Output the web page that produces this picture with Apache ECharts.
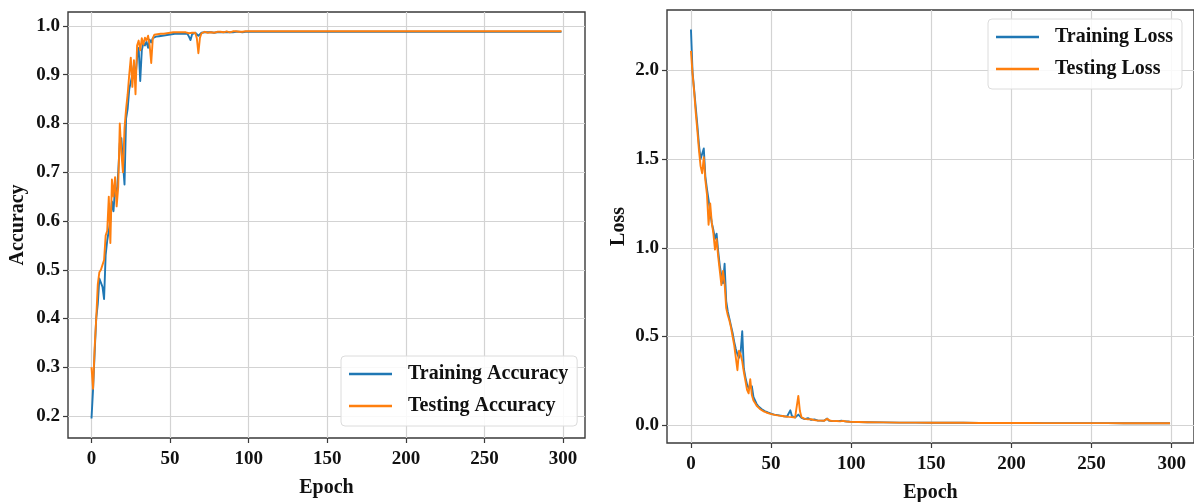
<!DOCTYPE html>
<html>
<head>
<meta charset="utf-8">
<script src="https://cdn.jsdelivr.net/npm/echarts@6/dist/echarts.min.js"></script>
<style>
  html, body { margin: 0; padding: 0; background: #fff; }
  #chart { width: 1194px; height: 502px; }
</style>
</head>
<body>
<div id="chart"></div>
<script>
// Per-epoch values for epochs 0..99, then sparser samples over the flat tail.
const tailEpochs = [100, 110, 120, 130, 140, 150, 160, 170, 180, 190, 200, 210, 220, 230, 240, 250, 260, 270, 280, 290, 299];

const trainAcc = [
  0.195, 0.255, 0.33, 0.40, 0.43, 0.482, 0.478, 0.465, 0.44, 0.53,
  0.56, 0.58, 0.60, 0.64, 0.62, 0.67, 0.65, 0.70, 0.76, 0.77,
  0.72, 0.675, 0.81, 0.83, 0.87, 0.885, 0.90, 0.92, 0.895, 0.935,
  0.955, 0.887, 0.95, 0.965, 0.96, 0.968, 0.955, 0.972, 0.966, 0.975,
  0.976, 0.978, 0.977, 0.979, 0.978, 0.980, 0.979, 0.981, 0.980, 0.982,
  0.982, 0.983, 0.982, 0.984, 0.983, 0.984, 0.985, 0.984, 0.985, 0.984,
  0.985, 0.984, 0.978, 0.971, 0.983, 0.985, 0.986, 0.985, 0.980, 0.984,
  0.986, 0.986, 0.987, 0.986, 0.987, 0.986, 0.987, 0.987, 0.986, 0.987,
  0.987, 0.986, 0.987, 0.988, 0.987, 0.986, 0.987, 0.988, 0.987, 0.988,
  0.987, 0.988, 0.988, 0.987, 0.988, 0.988, 0.987, 0.988, 0.988, 0.988
];
const trainAccTail = [0.988, 0.988, 0.988, 0.988, 0.988, 0.988, 0.988, 0.988, 0.988, 0.988, 0.988,
  0.988, 0.988, 0.988, 0.988, 0.988, 0.988, 0.988, 0.988, 0.988, 0.988];

const testAcc = [
  0.30, 0.256, 0.34, 0.40, 0.47, 0.495, 0.50, 0.51, 0.52, 0.57,
  0.58, 0.65, 0.555, 0.685, 0.65, 0.69, 0.63, 0.67, 0.80, 0.74,
  0.70, 0.79, 0.83, 0.86, 0.90, 0.935, 0.875, 0.93, 0.86, 0.96,
  0.97, 0.95, 0.975, 0.962, 0.976, 0.97, 0.98, 0.96, 0.924, 0.975,
  0.982, 0.984, 0.983, 0.985, 0.984, 0.986, 0.984, 0.986, 0.985, 0.987,
  0.986, 0.985, 0.987, 0.986, 0.987, 0.985, 0.987, 0.986, 0.987, 0.986,
  0.987, 0.986, 0.985, 0.984, 0.986, 0.987, 0.986, 0.975, 0.944, 0.976,
  0.985, 0.987, 0.988, 0.987, 0.986, 0.988, 0.987, 0.988, 0.986, 0.987,
  0.988, 0.987, 0.988, 0.988, 0.987, 0.988, 0.989, 0.988, 0.987, 0.988,
  0.989, 0.988, 0.989, 0.988, 0.988, 0.989, 0.988, 0.989, 0.989, 0.989
];
const testAccTail = [0.989, 0.989, 0.989, 0.989, 0.989, 0.989, 0.989, 0.989, 0.989, 0.989, 0.989,
  0.989, 0.989, 0.989, 0.989, 0.989, 0.989, 0.989, 0.989, 0.989, 0.989];

const trainLoss = [
  2.23, 1.99, 1.89, 1.79, 1.69, 1.58, 1.50, 1.53, 1.56, 1.40,
  1.33, 1.27, 1.20, 1.14, 1.10, 1.05, 1.08, 0.98, 0.90, 0.84,
  0.80, 0.91, 0.70, 0.64, 0.60, 0.56, 0.52, 0.47, 0.43, 0.40,
  0.38, 0.41, 0.53, 0.32, 0.27, 0.23, 0.21, 0.20, 0.22, 0.16,
  0.140, 0.120, 0.108, 0.098, 0.092, 0.086, 0.080, 0.076, 0.072, 0.068,
  0.065, 0.062, 0.060, 0.058, 0.057, 0.060, 0.054, 0.052, 0.051, 0.050,
  0.049, 0.055, 0.084, 0.052, 0.046, 0.044, 0.043, 0.060, 0.070, 0.042,
  0.037, 0.035, 0.034, 0.040, 0.032, 0.030, 0.029, 0.033, 0.028, 0.027,
  0.026, 0.026, 0.030, 0.025, 0.028, 0.038, 0.026, 0.024, 0.024, 0.030,
  0.023, 0.029, 0.023, 0.022, 0.026, 0.030, 0.022, 0.021, 0.021, 0.020
];
const trainLossTail = [0.019, 0.017, 0.016, 0.015, 0.015, 0.014, 0.014, 0.014, 0.013, 0.013, 0.013,
  0.013, 0.012, 0.012, 0.012, 0.012, 0.012, 0.011, 0.011, 0.011, 0.011];

const testLoss = [
  2.11, 1.98, 1.88, 1.76, 1.66, 1.55, 1.46, 1.42, 1.51, 1.38,
  1.30, 1.13, 1.25, 1.14, 1.08, 0.99, 1.05, 0.95, 0.87, 0.79,
  0.87, 0.80, 0.66, 0.62, 0.59, 0.55, 0.50, 0.45, 0.44, 0.31,
  0.42, 0.40, 0.36, 0.30, 0.25, 0.20, 0.18, 0.26, 0.17, 0.14,
  0.125, 0.110, 0.100, 0.092, 0.086, 0.080, 0.076, 0.072, 0.068, 0.066,
  0.063, 0.061, 0.059, 0.057, 0.056, 0.054, 0.053, 0.052, 0.050, 0.049,
  0.048, 0.047, 0.050, 0.046, 0.045, 0.044, 0.050, 0.165, 0.080, 0.045,
  0.038, 0.036, 0.034, 0.033, 0.031, 0.034, 0.030, 0.029, 0.028, 0.027,
  0.027, 0.026, 0.026, 0.025, 0.030, 0.036, 0.026, 0.025, 0.024, 0.023,
  0.028, 0.024, 0.023, 0.022, 0.022, 0.025, 0.022, 0.021, 0.021, 0.020
];
const testLossTail = [0.019, 0.017, 0.016, 0.015, 0.015, 0.014, 0.014, 0.014, 0.013, 0.013, 0.013,
  0.013, 0.012, 0.012, 0.012, 0.012, 0.012, 0.011, 0.011, 0.011, 0.011];

const epochTicks = [0, 50, 100, 150, 200, 250, 300];
const accTicks = [0.2, 0.3, 0.4, 0.5, 0.6, 0.7, 0.8, 0.9, 1.0];
const lossTicks = [0, 0.5, 1.0, 1.5, 2.0];

// Pair each value with its epoch: dense part is indexed by epoch, tail has explicit epochs.
function pairs(dense, tail) {
  const out = dense.map((v, i) => [i, v]);
  tail.forEach((v, i) => out.push([tailEpochs[i], v]));
  return out;
}

const FONT = 'Liberation Serif';
const BLUE = '#1f77b4';
const ORANGE = '#ff7f0e';
const SPINE = '#3a3a3a';
const GRIDC = '#d3d3d3';

function xAxisFor(gridIndex) {
  return {
    type: 'value', gridIndex,
    min: -14.95, max: 313.95,
    name: 'Epoch', nameLocation: 'middle', nameGap: 40,
    nameTextStyle: { fontFamily: FONT, fontWeight: 'bold', fontSize: 20, color: '#111' },
    axisLine: { show: false, onZero: false },
    axisTick: { show: true, customValues: epochTicks, length: 5, lineStyle: { color: SPINE, width: 1.2 } },
    axisLabel: { customValues: epochTicks, margin: 12, fontFamily: FONT, fontWeight: 'bold', fontSize: 19, color: '#111' },
    splitLine: { show: true, lineStyle: { color: GRIDC, width: 1.2 } }
  };
}

function yAxisFor(gridIndex, name, min, max, ticks, gap) {
  return {
    type: 'value', gridIndex, min, max,
    name, nameLocation: 'middle', nameGap: gap,
    nameTextStyle: { fontFamily: FONT, fontWeight: 'bold', fontSize: 20, color: '#111' },
    axisLine: { show: false, onZero: false },
    axisTick: { show: true, customValues: ticks, length: 5, lineStyle: { color: SPINE, width: 1.2 } },
    axisLabel: { customValues: ticks, margin: 8, fontFamily: FONT, fontWeight: 'bold', fontSize: 19, color: '#111',
      formatter: v => v.toFixed(1) },
    splitLine: { show: true, lineStyle: { color: GRIDC, width: 1.2 } }
  };
}

function legendFor(left, top, names) {
  return {
    left, top, orient: 'vertical',
    data: names.map(n => ({ name: n, icon: 'rect' })),
    itemWidth: 43, itemHeight: 2.4, itemGap: 12,
    padding: [8, 9, 10, 8],
    backgroundColor: 'rgba(255,255,255,0.85)',
    borderColor: '#dcdcdc', borderWidth: 1, borderRadius: 4,
    textStyle: { fontFamily: FONT, fontWeight: 'bold', fontSize: 20, color: '#111', padding: [0, 0, 0, 11] }
  };
}

function lineSeries(name, color, xi, yi, data) {
  return {
    name, type: 'line', xAxisIndex: xi, yAxisIndex: yi,
    data, showSymbol: false, symbol: 'none', smooth: false,
    lineStyle: { color, width: 1.9, join: 'round' }, itemStyle: { color },
    emphasis: { disabled: true }, animation: false
  };
}

const chart = echarts.init(document.getElementById('chart'), null, { renderer: 'canvas' });
chart.setOption({
  backgroundColor: '#fff',
  animation: false,
  grid: [
    { left: 68, top: 12, width: 517, height: 426, outerBoundsMode: 'none', containLabel: false,
      show: true, borderColor: SPINE, borderWidth: 1.4, backgroundColor: 'transparent' },
    { left: 667, top: 10, width: 527, height: 433, outerBoundsMode: 'none', containLabel: false,
      show: true, borderColor: SPINE, borderWidth: 1.4, backgroundColor: 'transparent' }
  ],
  xAxis: [xAxisFor(0), xAxisFor(1)],
  yAxis: [
    yAxisFor(0, 'Accuracy', 0.155, 1.0286, accTicks, 40),
    yAxisFor(1, 'Loss', -0.1, 2.34, lossTicks, 38)
  ],
  legend: [
    legendFor(341, 356, ['Training Accuracy', 'Testing Accuracy']),
    legendFor(988, 19, ['Training Loss', 'Testing Loss'])
  ],
  series: [
    lineSeries('Training Accuracy', BLUE, 0, 0, pairs(trainAcc, trainAccTail)),
    lineSeries('Testing Accuracy', ORANGE, 0, 0, pairs(testAcc, testAccTail)),
    lineSeries('Training Loss', BLUE, 1, 1, pairs(trainLoss, trainLossTail)),
    lineSeries('Testing Loss', ORANGE, 1, 1, pairs(testLoss, testLossTail))
  ]
});
</script>
</body>
</html>
